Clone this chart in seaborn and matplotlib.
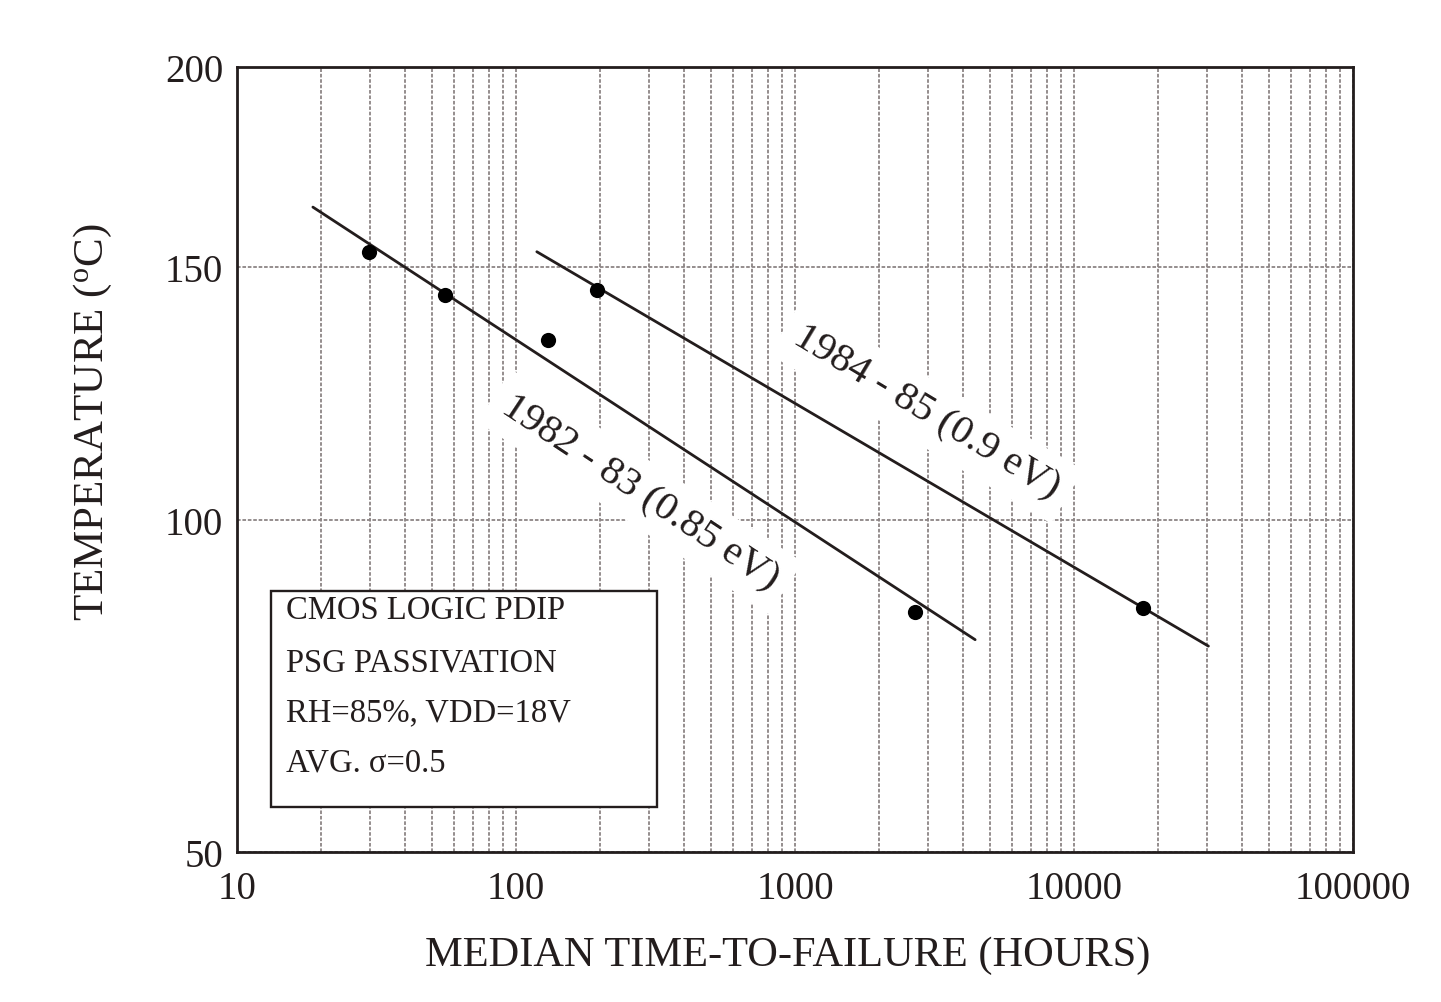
import numpy as np
import pandas as pd
import matplotlib
matplotlib.use("Agg")
import matplotlib.pyplot as plt
from matplotlib.patches import Rectangle
from matplotlib.ticker import FixedLocator, NullFormatter
import seaborn as sns

# ---------------- data ----------------
hours = [29.6, 55.7, 130.6, 194.7, 2690, 17700]
temp_c = [153.3, 143.8, 134.3, 144.9, 84.7, 85.3]

fit_8283_hours = [18.7, 4420]
fit_8283_temp = [163.8, 80.3]
fit_8485_hours = [118.7, 30300]
fit_8485_temp = [153.4, 79.3]

line_labels = ["1982 - 83 (0.85 eV)", "1984 - 85 (0.9 eV)"]
label_hours = [278, 2950]
label_temp = [105.0, 119.8]
label_rot = [-33.5, -31.0]

x_ticks = [10, 100, 1000, 10000, 100000]
x_tick_labels = ["10", "100", "1000", "10000", "100000"]
y_ticks = [50, 100, 150, 200]
y_tick_labels = ["50", "100", "150", "200"]

info_lines = ["CMOS LOGIC PDIP", "PSG PASSIVATION", "RH=85%, VDD=18V", "AVG. \u03c3=0.5"]

x_label = "MEDIAN TIME-TO-FAILURE (HOURS)"
y_label = r"TEMPERATURE ($^{\mathrm{o}}$C)"

# ---------------- style ----------------
sns.set_style("white")
plt.rcParams["font.family"] = ["Liberation Serif", "DejaVu Serif"]
plt.rcParams["mathtext.fontset"] = "custom"
plt.rcParams["mathtext.rm"] = "Liberation Serif"
plt.rcParams["mathtext.it"] = "Liberation Serif:italic"
plt.rcParams["mathtext.bf"] = "Liberation Serif:bold"

ink = "#231d1d"
grid_col = "#8c8585"

fig = plt.figure(figsize=(14.41, 10.03), dpi=100)
ax = fig.add_axes([0.1645, 0.1496, 0.7745, 0.7826])


# Arrhenius temperature scale: linear in 1/T(K)
def fwd(t):
    t = np.asarray(t, dtype=float)
    with np.errstate(divide="ignore", invalid="ignore"):
        return -1000.0 / (t + 273.15)


def inv(u):
    u = np.asarray(u, dtype=float)
    with np.errstate(divide="ignore", invalid="ignore"):
        return -1000.0 / u - 273.15


ax.set_xscale("log")
ax.set_yscale("function", functions=(fwd, inv))

pts = pd.DataFrame({"hours": hours, "temp": temp_c})
fit1 = pd.DataFrame({"hours": fit_8283_hours, "temp": fit_8283_temp})
fit2 = pd.DataFrame({"hours": fit_8485_hours, "temp": fit_8485_temp})

sns.lineplot(data=fit1, x="hours", y="temp", ax=ax, color=ink, lw=2.0, zorder=4)
sns.lineplot(data=fit2, x="hours", y="temp", ax=ax, color=ink, lw=2.0, zorder=4)
sns.scatterplot(data=pts, x="hours", y="temp", ax=ax, color="black", s=120,
                edgecolor="black", linewidth=0, zorder=5)

ax.set_xlim(10, 100000)
ax.set_ylim(50, 200)

ax.xaxis.set_major_locator(FixedLocator(x_ticks))
ax.set_xticklabels(x_tick_labels)
minor = [m * 10 ** d for d in range(1, 5) for m in range(2, 10)]
ax.xaxis.set_minor_locator(FixedLocator(minor))
ax.xaxis.set_minor_formatter(NullFormatter())
ax.yaxis.set_major_locator(FixedLocator(y_ticks))
ax.set_yticklabels(y_tick_labels)
ax.yaxis.set_minor_locator(FixedLocator([]))

ax.grid(True, which="both", axis="x", color=grid_col, lw=1.3, ls=(0, (2, 1)), zorder=0)
ax.grid(True, which="major", axis="y", color=grid_col, lw=1.3, ls=(0, (2, 1)), zorder=0)

ax.tick_params(axis="both", which="both", length=0, colors=ink, labelsize=28)
ax.tick_params(axis="y", pad=10)
ax.tick_params(axis="x", pad=13)

for s in ax.spines.values():
    s.set_color(ink)
    s.set_linewidth(2.0)
    s.set_visible(True)

ax.set_xlabel(x_label, fontsize=30.5, color=ink)
ax.set_ylabel(y_label, fontsize=31, color=ink)
ax.xaxis.set_label_coords(0.4937, -0.106)
ax.yaxis.set_label_coords(-0.11, 0.549)

# rotated line labels
for txt, hx, ty, rot in zip(line_labels, label_hours, label_temp, label_rot):
    ax.text(hx, ty, txt, rotation=rot, rotation_mode="anchor", ha="center", va="center",
            fontsize=29.5, color=ink, zorder=3,
            bbox=dict(fc="white", ec="none", pad=9))

# info box
ax.add_patch(Rectangle((0.0305, 0.0573), 0.3458, 0.2752, transform=ax.transAxes,
                       fc="white", ec=ink, lw=1.7, zorder=6))
for line, yy in zip(info_lines, [0.3083, 0.2420, 0.1783, 0.1146]):
    ax.text(0.0439, yy, line, transform=ax.transAxes, ha="left", va="center",
            fontsize=23.5, color=ink, zorder=7)

fig.savefig("out.png", dpi=100, facecolor="white")
